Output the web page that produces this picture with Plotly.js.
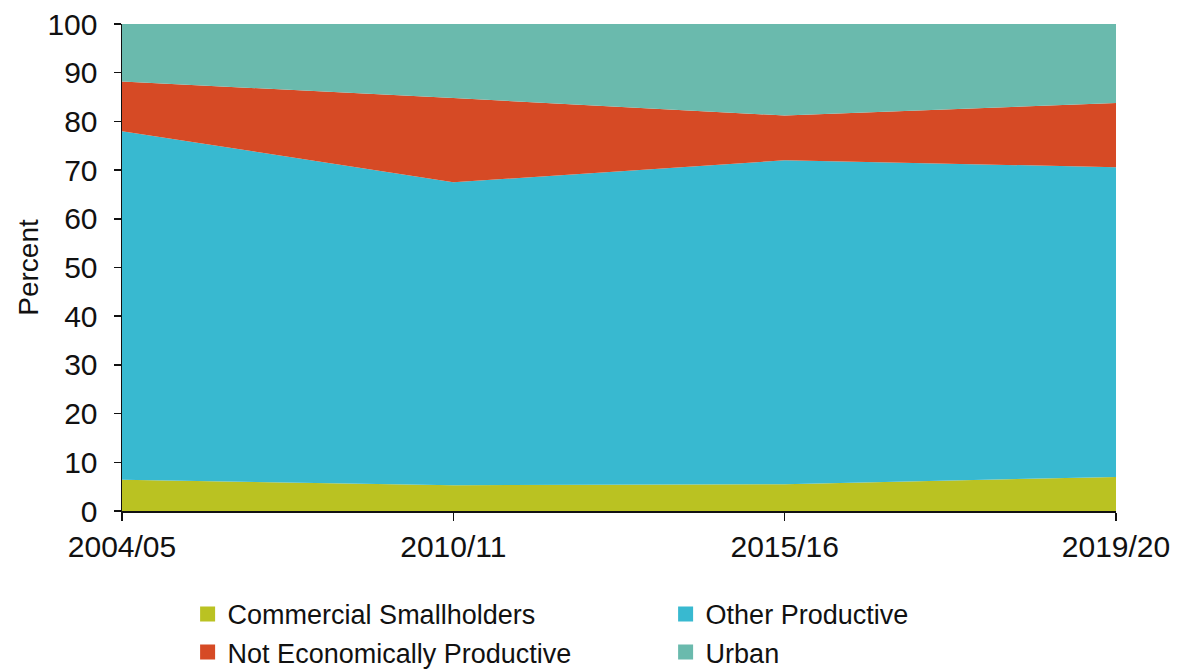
<!DOCTYPE html>
<html>
<head>
<meta charset="utf-8">
<script src="https://cdn.plot.ly/plotly-3.0.1.min.js"></script>
<style>html,body{margin:0;padding:0;background:#fff;}#chart{width:1192px;height:670px;}</style>
</head>
<body>
<div id="chart"></div>
<script>
const years = ["2004/05", "2010/11", "2015/16", "2019/20"];
const commercialSmallholders = [6.4, 5.3, 5.5, 7.0];
const otherProductive = [71.6, 62.2, 66.5, 63.6];
const notEconomicallyProductive = [10.2, 17.3, 9.2, 13.2];
const urban = [11.8, 15.2, 18.8, 16.2];
const seriesNames = ["Commercial Smallholders", "Other Productive", "Not Economically Productive", "Urban"];
const seriesColors = ["#bac222", "#38b9d0", "#d64a25", "#6abaad"];
const seriesValues = [commercialSmallholders, otherProductive, notEconomicallyProductive, urban];

const traces = [];
seriesValues.forEach((vals, i) => {
  traces.push({
    x: years, y: vals, type: 'scatter', mode: 'lines', stackgroup: 'one',
    line: {width: 0, color: seriesColors[i]}, fillcolor: seriesColors[i],
    name: seriesNames[i], showlegend: false, hoverinfo: 'x+y+name'
  });
});
seriesValues.forEach((vals, i) => {
  traces.push({
    x: [null], y: [null], type: 'scatter', mode: 'markers',
    marker: {symbol: 'square', size: 15, color: seriesColors[i]},
    name: seriesNames[i], showlegend: true
  });
});

const layout = {
  width: 1192, height: 670,
  margin: {l: 122, r: 76, t: 24, b: 159, autoexpand: false},
  paper_bgcolor: '#fff', plot_bgcolor: '#fff',
  font: {family: 'Liberation Sans, Arial, sans-serif', color: '#111'},
  xaxis: {
    type: 'category', range: [0, 3], showgrid: false, zeroline: false,
    showline: true, linecolor: '#111', linewidth: 1.5,
    ticks: 'outside', ticklen: 8, tickwidth: 1.5, tickcolor: '#111',
    tickfont: {size: 30}, ticklabelstandoff: 0
  },
  yaxis: {
    range: [0, 100], dtick: 10, showgrid: false, zeroline: false,
    showline: true, linecolor: '#111', linewidth: 1.5,
    ticks: 'outside', ticklen: 7, tickwidth: 1.5, tickcolor: '#111',
    tickfont: {size: 30}, ticklabelstandoff: 10,
    title: {text: 'Percent', font: {size: 28}, standoff: 0}
  },
  legend: {
    orientation: 'h', x: 0.066, xanchor: 'left', y: -0.162, yanchor: 'top',
    font: {size: 27}, entrywidth: 433, entrywidthmode: 'pixels',
    traceorder: 'normal', itemclick: false
  },
  showlegend: true
};
Plotly.newPlot('chart', traces, layout, {displayModeBar: false, staticPlot: true});
</script>
</body>
</html>
